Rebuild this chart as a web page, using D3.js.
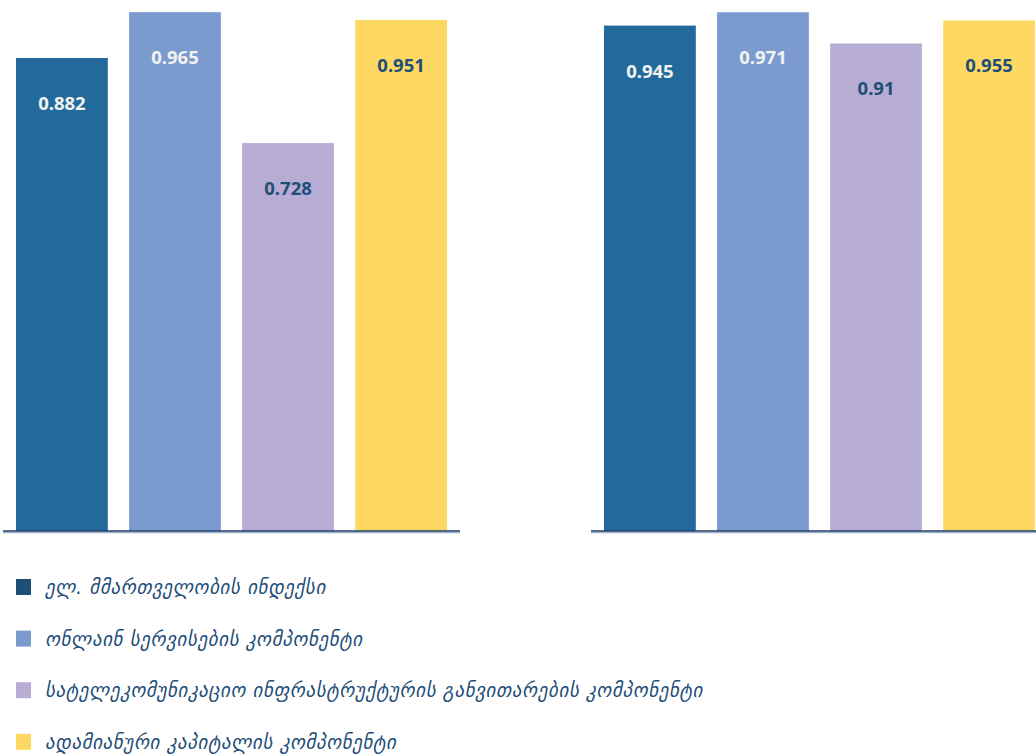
<!DOCTYPE html>
<html lang="ka">
<head>
<meta charset="UTF-8">
<title>chart</title>
<script src="https://d3js.org/d3.v7.min.js"></script>
<style>
  body { margin: 0; background: #fff; }
  svg { display: block; }
</style>
</head>
<body>
<svg width="1036" height="754"></svg>
<script>
// series names (legend) and colours
let series = ["ელ. მმართველობის ინდექსი", "ონლაინ სერვისების კომპონენტი",
  "სატელეკომუნიკაციო ინფრასტრუქტურის განვითარების კომპონენტი", "ადამიანური კაპიტალის კომპონენტი"];
let barColors = ["#216a9b", "#7b9bcf", "#b7acd3", "#fdd963"];
let swatchColors = ["#1f4e79", "#7b9bcf", "#b7acd3", "#fdd963"];
let labelColors = ["#f2f2f2", "#f2f2f2", "#1f4e79", "#1f4e79"];

// the two panels
let leftValues = [0.882, 0.965, 0.728, 0.951];
let rightValues = [0.945, 0.971, 0.91, 0.955];

let svg = d3.select("svg");
let baseY = 531;

function panel(values, x0, yDomain) {
  let x = d3.scaleBand().domain(d3.range(values.length))
    .range([x0, x0 + 457]).paddingInner(0.188).paddingOuter(0.115);
  let y = d3.scaleLinear().domain(yDomain).range([baseY, 0]);
  let g = svg.append("g");
  g.selectAll("rect.bar").data(values).enter().append("rect")
    .attr("class", "bar")
    .attr("x", (d, i) => x(i))
    .attr("width", x.bandwidth())
    .attr("y", d => y(d))
    .attr("height", d => baseY - y(d))
    .attr("fill", (d, i) => barColors[i]);
  g.selectAll("text.val").data(values).enter().append("text")
    .attr("class", "val")
    .attr("x", (d, i) => x(i) + x.bandwidth() / 2)
    .attr("y", d => y(d) + 52)
    .attr("text-anchor", "middle")
    .attr("fill", (d, i) => labelColors[i])
    .style("font-family", "'Noto Sans', sans-serif")
    .style("font-weight", "bold")
    .style("font-size", "18.5px")
    .text(d => d);
  // axis line with a soft shadow
  g.append("line").attr("x1", x0).attr("x2", x0 + 457)
    .attr("y1", baseY + 1.5).attr("y2", baseY + 1.5)
    .attr("stroke", "#9fb3c8").attr("stroke-width", 1.5);
  g.append("line").attr("x1", x0).attr("x2", x0 + 457)
    .attr("y1", baseY).attr("y2", baseY)
    .attr("stroke", "#1f3d6b").attr("stroke-width", 1.5);
}

panel(leftValues, 3, [0.026, 0.987]);
panel(rightValues, 591, [-0.043, 0.995]);

// legend
let legend = svg.append("g").selectAll("g").data(series).enter().append("g")
  .attr("transform", (d, i) => `translate(16, ${579 + i * 51.6})`);
legend.append("rect")
  .attr("width", 15).attr("height", 16)
  .attr("fill", (d, i) => swatchColors[i]);
legend.append("text")
  .attr("x", 29).attr("y", 15)
  .attr("fill", "#1f4e79")
  .style("font-family", "'DejaVu Sans', sans-serif")
  .style("font-style", "italic")
  .style("font-size", "19px")
  .style("letter-spacing", "0.6px")
  .text(d => d);
</script>
</body>
</html>
